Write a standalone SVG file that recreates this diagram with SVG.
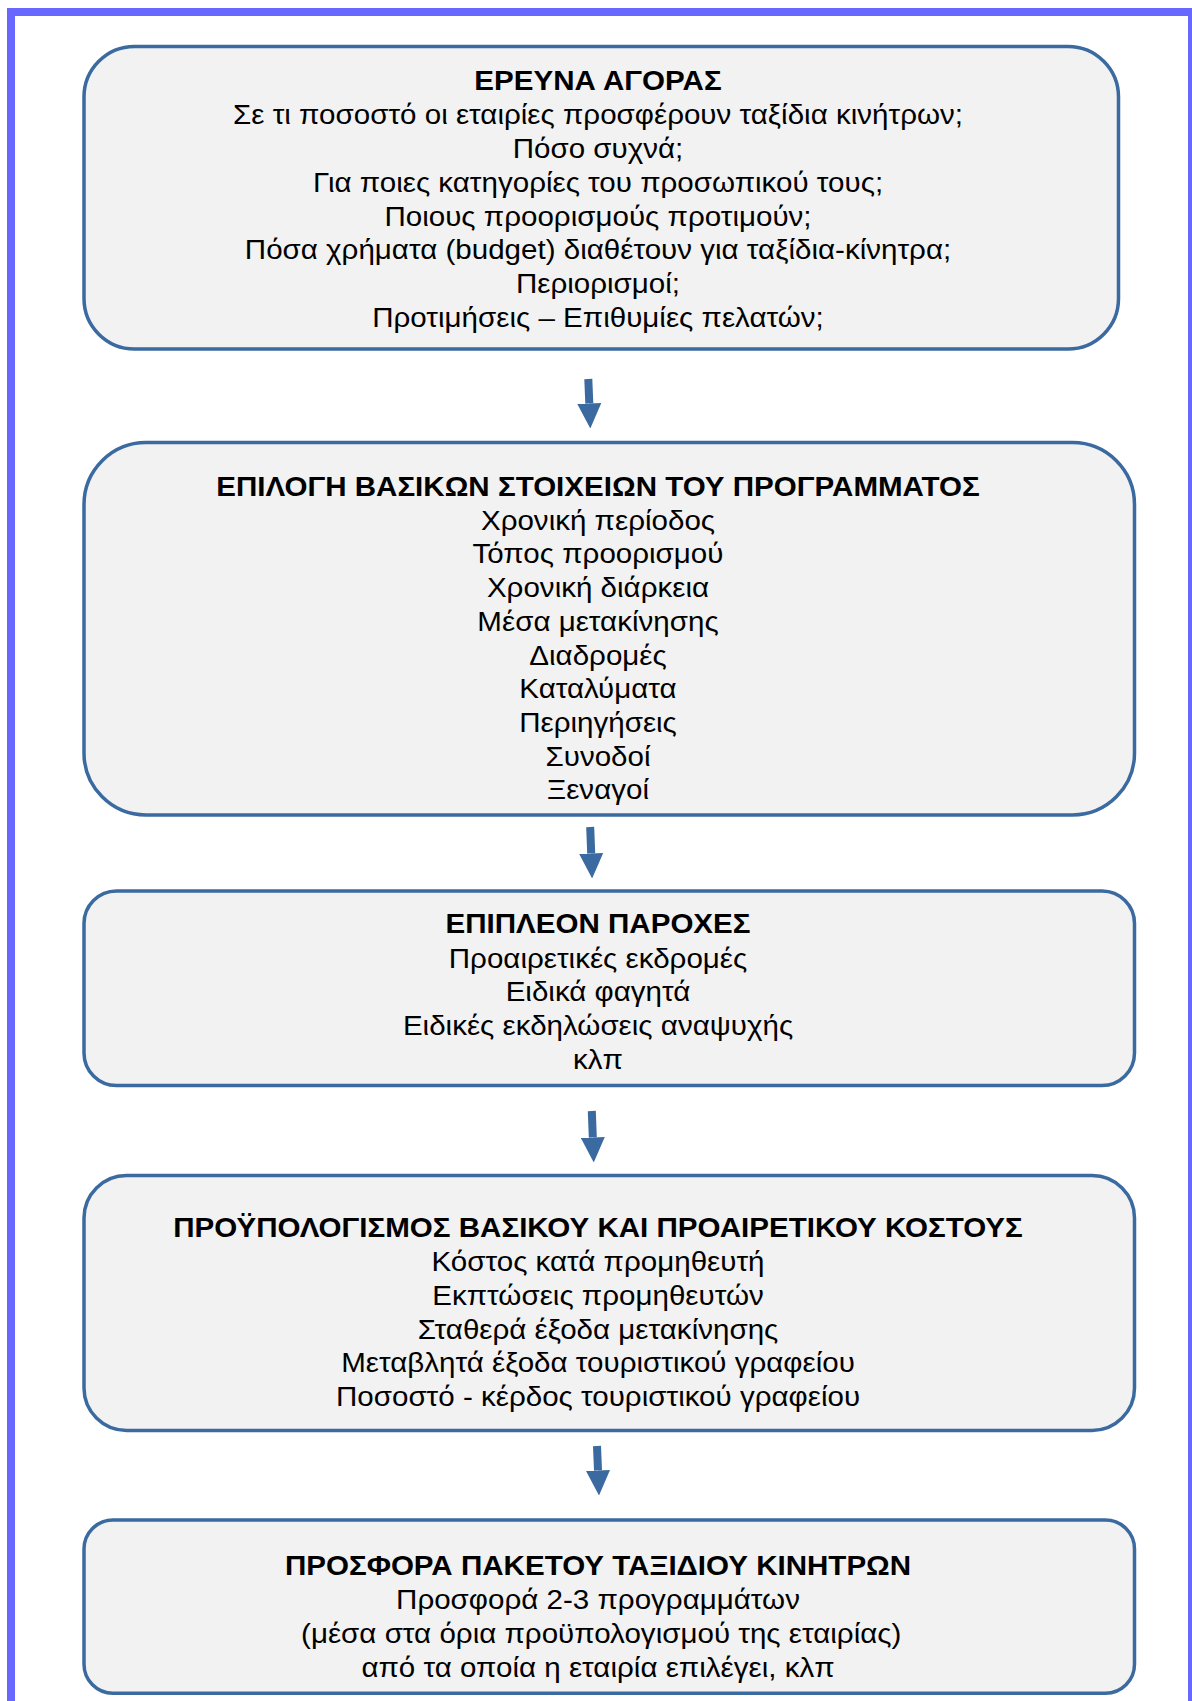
<svg xmlns="http://www.w3.org/2000/svg" width="1192" height="1701" viewBox="0 0 1192 1701">
  <style>
    .box { fill: #f2f2f2; stroke: #3a6a9f; stroke-width: 3.5; }
    .t { font-family: "Liberation Sans", Arial, sans-serif; font-size: 27.5px; fill: #000; text-anchor: middle; }
    .h { font-weight: bold; }
    .arrow { stroke: #3a6a9f; stroke-width: 8; fill: none; }
  </style>
  <defs>
    <marker id="head" markerUnits="userSpaceOnUse" viewBox="0 0 25 24" refX="0" refY="12" markerWidth="25" markerHeight="24" orient="auto">
      <path d="M0,0 L25,12 L0,24 Z" fill="#3a6a9f"/>
    </marker>
  </defs>

  <rect x="0" y="0" width="1192" height="1701" fill="#fff"/>
  <!-- page frame -->
  <rect x="11" y="12" width="1181" height="1750" fill="none" stroke="#6868fe" stroke-width="8"/>

  <!-- connectors -->
  <g id="connectors">
    <line class="arrow" x1="588.3" y1="379" x2="589.3" y2="403.5" marker-end="url(#head)"/>
    <line class="arrow" x1="590.2" y1="827" x2="591.2" y2="853.5" marker-end="url(#head)"/>
    <line class="arrow" x1="591.8" y1="1111" x2="592.8" y2="1137.5" marker-end="url(#head)"/>
    <line class="arrow" x1="597" y1="1446" x2="598" y2="1470.5" marker-end="url(#head)"/>
  </g>

  <g id="market-research">
    <rect class="box" x="84" y="46.5" width="1034.5" height="302.5" rx="50.5" ry="50.5"/>
    <g transform="translate(598,0) scale(1.075,1)">
      <text class="t h" x="0" y="90">ΕΡΕΥΝΑ ΑΓΟΡΑΣ</text>
      <text class="t" x="0" y="124">Σε τι ποσοστό οι εταιρίες προσφέρουν ταξίδια κινήτρων;</text>
      <text class="t" x="0" y="158">Πόσο συχνά;</text>
      <text class="t" x="0" y="192">Για ποιες κατηγορίες του προσωπικού τους;</text>
      <text class="t" x="0" y="226">Ποιους προορισμούς προτιμούν;</text>
      <text class="t" x="0" y="259.5">Πόσα χρήματα (budget) διαθέτουν για ταξίδια-κίνητρα;</text>
      <text class="t" x="0" y="293.5">Περιορισμοί;</text>
      <text class="t" x="0" y="327.5">Προτιμήσεις – Επιθυμίες πελατών;</text>
    </g>
  </g>

  <g id="programme-elements">
    <rect class="box" x="84" y="442.5" width="1050.5" height="372.5" rx="62" ry="62"/>
    <g transform="translate(598,0) scale(1.075,1)">
      <text class="t h" x="0" y="496">ΕΠΙΛΟΓΗ ΒΑΣΙΚΩΝ ΣΤΟΙΧΕΙΩΝ ΤΟΥ ΠΡΟΓΡΑΜΜΑΤΟΣ</text>
      <text class="t" x="0" y="530">Χρονική περίοδος</text>
      <text class="t" x="0" y="563.5">Τόπος προορισμού</text>
      <text class="t" x="0" y="597.3">Χρονική διάρκεια</text>
      <text class="t" x="0" y="631">Μέσα μετακίνησης</text>
      <text class="t" x="0" y="665">Διαδρομές</text>
      <text class="t" x="0" y="698.5">Καταλύματα</text>
      <text class="t" x="0" y="732.3">Περιηγήσεις</text>
      <text class="t" x="0" y="765.8">Συνοδοί</text>
      <text class="t" x="0" y="799.3">Ξεναγοί</text>
    </g>
  </g>

  <g id="extra-services">
    <rect class="box" x="84" y="891" width="1050.5" height="194.5" rx="32.5" ry="32.5"/>
    <g transform="translate(598,0) scale(1.075,1)">
      <text class="t h" x="0" y="933.3">ΕΠΙΠΛΕΟΝ ΠΑΡΟΧΕΣ</text>
      <text class="t" x="0" y="967.7">Προαιρετικές εκδρομές</text>
      <text class="t" x="0" y="1001">Ειδικά φαγητά</text>
      <text class="t" x="0" y="1035">Ειδικές εκδηλώσεις αναψυχής</text>
      <text class="t" x="0" y="1068.7">κλπ</text>
    </g>
  </g>

  <g id="cost-budget">
    <rect class="box" x="84" y="1175.5" width="1050.5" height="255" rx="42.5" ry="42.5"/>
    <g transform="translate(598,0) scale(1.075,1)">
      <text class="t h" x="0" y="1236.7">ΠΡΟΫΠΟΛΟΓΙΣΜΟΣ ΒΑΣΙΚΟΥ ΚΑΙ ΠΡΟΑΙΡΕΤΙΚΟΥ ΚΟΣΤΟΥΣ</text>
      <text class="t" x="0" y="1271">Κόστος κατά προμηθευτή</text>
      <text class="t" x="0" y="1305">Εκπτώσεις προμηθευτών</text>
      <text class="t" x="0" y="1339">Σταθερά έξοδα μετακίνησης</text>
      <text class="t" x="0" y="1372.5">Μεταβλητά έξοδα τουριστικού γραφείου</text>
      <text class="t" x="0" y="1406">Ποσοστό - κέρδος τουριστικού γραφείου</text>
    </g>
  </g>

  <g id="package-offer">
    <rect class="box" x="84" y="1520" width="1050.5" height="173.3" rx="29" ry="29"/>
    <g transform="translate(598,0) scale(1.075,1)">
      <text class="t h" x="0" y="1575">ΠΡΟΣΦΟΡΑ ΠΑΚΕΤΟΥ ΤΑΞΙΔΙΟΥ ΚΙΝΗΤΡΩΝ</text>
      <text class="t" x="0" y="1609.3">Προσφορά 2-3 προγραμμάτων</text>
      <text class="t" x="3" y="1643.3">(μέσα στα όρια προϋπολογισμού της εταιρίας)</text>
      <text class="t" x="0" y="1676.7">από τα οποία η εταιρία επιλέγει, κλπ</text>
    </g>
  </g>
</svg>
